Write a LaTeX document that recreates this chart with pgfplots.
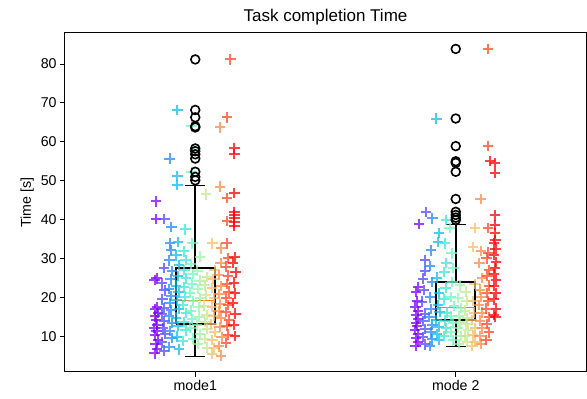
\documentclass[border=0pt]{standalone}
\usepackage{pgfplots}
\pgfplotsset{compat=1.18}
\usepackage{pgfplotstable}
\usepackage{fontspec}
\setmainfont{Liberation Sans}
\definecolor{mplorange}{rgb}{1,0.498,0.055}
\pgfplotsset{colormap={mplrainbow}{rgb=(0.5,0,1) rgb=(0.25,0.383,0.981) rgb=(0,0.707,0.924) rgb=(0.25,0.924,0.831) rgb=(0.5,1,0.707) rgb=(0.75,0.924,0.556) rgb=(1,0.707,0.383) rgb=(1,0.383,0.195) rgb=(1,0,0)}}

\pgfplotstableread[row sep=\\]{
c y j\\
0 5.6 -0.006\\ 0 6.8 0.004\\ 0 7.9 -0.002\\ 0 9.0 0.006\\ 0 10.2 -0.005\\ 0 11.3 0.002\\ 0 12.1 -0.007\\ 0 13.0 0.005\\ 0 14.2 0.000\\ 0 15.1 -0.004\\ 0 16.0 0.007\\ 0 16.9 -0.003\\ 0 17.4 0.003\\ 0 24.4 -0.006\\ 0 24.9 0.002\\ 0 40.1 0.000\\ 0 44.7 0.000\\
1 6.3 0.003\\ 1 8.4 -0.004\\ 1 10.5 0.006\\ 1 12.0 -0.002\\ 1 13.8 0.004\\ 1 15.6 -0.006\\ 1 17.2 0.001\\ 1 19.5 -0.003\\ 1 21.8 0.005\\ 1 23.6 -0.005\\ 1 27.5 0.002\\ 1 40.1 0.004\\
2 7.2 -0.004\\ 2 9.6 0.005\\ 2 11.4 -0.001\\ 2 13.4 0.006\\ 2 15.2 -0.006\\ 2 16.8 0.002\\ 2 18.6 -0.003\\ 2 20.4 0.004\\ 2 22.2 -0.005\\ 2 24.6 0.001\\ 2 26.8 0.006\\ 2 29.5 -0.004\\ 2 32.1 0.003\\ 2 33.9 -0.002\\ 2 38.1 0.004\\ 2 55.7 -0.003\\
3 6.6 0.005\\ 3 9.9 -0.003\\ 3 12.6 0.002\\ 3 14.8 -0.006\\ 3 17.0 0.006\\ 3 19.2 -0.001\\ 3 21.3 0.004\\ 3 23.0 -0.005\\ 3 25.5 0.001\\ 3 28.3 0.006\\ 3 30.8 -0.004\\ 3 34.2 0.003\\ 3 48.9 0.000\\ 3 51.2 0.000\\ 3 68.2 0.000\\
4 8.8 -0.005\\ 4 11.5 0.004\\ 4 13.7 -0.002\\ 4 15.9 0.006\\ 4 18.1 -0.006\\ 4 20.2 0.002\\ 4 22.6 -0.003\\ 4 24.9 0.005\\ 4 27.1 -0.001\\ 4 29.6 0.004\\ 4 31.8 -0.004\\ 4 37.5 0.003\\
5 9.4 0.004\\ 5 12.2 -0.005\\ 5 14.4 0.002\\ 5 16.6 -0.003\\ 5 19.0 0.006\\ 5 21.2 -0.006\\ 5 23.5 0.001\\ 5 26.0 0.005\\ 5 28.6 -0.002\\ 5 33.9 0.003\\ 5 52.3 0.000\\ 5 57.8 0.010\\ 5 64.0 0.000\\
6 8.0 -0.003\\ 6 10.6 0.005\\ 6 12.8 -0.006\\ 6 14.9 0.002\\ 6 17.5 -0.001\\ 6 19.8 0.006\\ 6 22.1 -0.004\\ 6 24.3 0.003\\ 6 26.9 -0.005\\ 6 30.5 0.004\\
7 7.1 0.004\\ 7 9.3 -0.005\\ 7 11.8 0.006\\ 7 13.6 -0.002\\ 7 15.5 0.003\\ 7 17.9 -0.006\\ 7 20.6 0.001\\ 7 23.1 -0.003\\ 7 25.3 0.005\\ 7 46.5 0.000\\
8 5.4 -0.004\\ 8 6.9 0.005\\ 8 9.0 -0.002\\ 8 11.1 0.006\\ 8 13.2 -0.006\\ 8 15.3 0.002\\ 8 17.6 -0.003\\ 8 19.9 0.004\\ 8 22.4 -0.005\\ 8 24.7 0.001\\ 8 27.0 0.006\\ 8 33.9 -0.002\\
9 5.0 0.003\\ 9 7.4 -0.004\\ 9 9.8 0.006\\ 9 12.3 -0.002\\ 9 14.6 0.004\\ 9 16.4 -0.006\\ 9 18.3 0.001\\ 9 20.8 -0.003\\ 9 22.9 0.005\\ 9 25.8 -0.005\\ 9 28.9 0.002\\ 9 32.6 0.004\\ 9 48.5 0.000\\ 9 63.7 0.000\\
10 8.2 -0.005\\ 10 10.4 0.004\\ 10 12.7 -0.002\\ 10 14.3 0.006\\ 10 16.2 -0.006\\ 10 18.0 0.002\\ 10 19.8 -0.003\\ 10 21.5 0.005\\ 10 23.4 -0.001\\ 10 25.6 0.004\\ 10 27.9 -0.004\\ 10 30.2 0.003\\ 10 33.9 -0.002\\ 10 39.6 0.000\\ 10 45.5 0.000\\ 10 66.3 0.000\\ 10 81.2 0.012\\
11 10.0 0.002\\ 11 12.9 -0.003\\ 11 15.8 0.004\\ 11 18.5 -0.005\\ 11 21.0 0.003\\ 11 23.8 -0.002\\ 11 26.4 0.005\\ 11 28.8 -0.004\\ 11 30.4 0.001\\ 11 38.3 0.000\\ 11 39.3 0.000\\ 11 40.4 0.000\\ 11 41.2 0.000\\ 11 41.9 0.000\\ 11 46.8 0.000\\ 11 56.8 0.000\\ 11 58.3 0.000\\
}\modeA

\pgfplotstableread[row sep=\\]{
c y j\\
0 7.6 -0.004\\ 0 8.6 0.004\\ 0 9.6 -0.002\\ 0 10.6 0.006\\ 0 11.6 -0.006\\ 0 12.6 0.002\\ 0 13.5 -0.003\\ 0 14.5 0.005\\ 0 15.5 -0.001\\ 0 16.5 0.004\\ 0 17.6 -0.005\\ 0 19.0 0.003\\ 0 21.4 -0.002\\ 0 22.6 0.005\\ 0 38.8 0.010\\
1 7.9 0.003\\ 1 9.8 -0.004\\ 1 11.8 0.006\\ 1 13.9 -0.002\\ 1 15.8 0.004\\ 1 18.9 -0.006\\ 1 21.9 0.001\\ 1 24.8 -0.003\\ 1 26.8 0.005\\ 1 29.6 0.004\\ 1 42.0 0.008\\
2 7.5 -0.004\\ 2 9.2 0.005\\ 2 11.0 -0.001\\ 2 13.0 0.006\\ 2 15.0 -0.006\\ 2 17.0 0.002\\ 2 20.0 -0.003\\ 2 24.0 0.004\\ 2 28.0 -0.005\\ 2 32.1 0.001\\ 2 40.3 0.006\\
3 9.0 0.005\\ 3 10.6 -0.003\\ 3 12.4 0.002\\ 3 14.2 -0.006\\ 3 16.2 0.006\\ 3 18.1 -0.001\\ 3 21.0 0.004\\ 3 25.1 -0.005\\ 3 34.3 0.001\\ 3 36.5 0.004\\ 3 66.0 -0.006\\
4 10.1 -0.005\\ 4 12.0 0.004\\ 4 14.0 -0.002\\ 4 16.1 0.006\\ 4 19.5 -0.006\\ 4 22.5 0.002\\ 4 26.5 -0.003\\ 4 28.8 0.005\\ 4 33.9 -0.001\\ 4 39.9 0.003\\
5 9.0 0.004\\ 5 11.2 -0.005\\ 5 13.4 0.002\\ 5 15.1 -0.003\\ 5 17.8 0.006\\ 5 20.1 -0.006\\ 5 24.0 0.001\\ 5 27.5 0.005\\ 5 31.3 -0.002\\ 5 37.8 -0.010\\
6 8.0 -0.003\\ 6 10.0 0.005\\ 6 12.1 -0.006\\ 6 13.6 0.002\\ 6 15.2 -0.001\\ 6 17.2 0.006\\ 6 19.9 -0.004\\ 6 23.1 0.003\\
7 8.5 0.004\\ 7 10.1 -0.005\\ 7 11.6 0.006\\ 7 13.1 -0.002\\ 7 14.6 0.003\\ 7 16.6 -0.006\\ 7 19.0 0.001\\ 7 21.5 -0.003\\
8 7.5 -0.004\\ 8 8.6 0.005\\ 8 10.2 -0.002\\ 8 12.0 0.006\\ 8 14.1 -0.006\\ 8 16.0 0.002\\ 8 19.1 -0.003\\ 8 23.5 0.004\\ 8 33.0 -0.002\\ 8 37.8 0.006\\
9 8.1 0.003\\ 9 10.0 -0.004\\ 9 12.0 0.006\\ 9 14.0 -0.002\\ 9 16.1 0.004\\ 9 18.0 -0.006\\ 9 20.1 0.001\\ 9 22.0 -0.003\\ 9 25.0 0.005\\ 9 28.8 -0.005\\ 9 32.0 0.002\\ 9 45.3 0.000\\
10 9.1 -0.005\\ 10 11.0 0.004\\ 10 13.1 -0.002\\ 10 15.0 0.006\\ 10 17.1 -0.006\\ 10 19.0 0.002\\ 10 21.1 -0.003\\ 10 23.0 0.005\\ 10 25.5 -0.001\\ 10 27.1 0.004\\ 10 30.0 -0.004\\ 10 31.5 0.003\\ 10 37.8 0.000\\ 10 58.9 0.000\\ 10 83.9 0.000\\
11 14.9 0.002\\ 11 15.5 -0.004\\ 11 17.1 0.004\\ 11 19.5 -0.005\\ 11 21.0 0.003\\ 11 22.9 -0.002\\ 11 24.5 0.005\\ 11 26.0 -0.004\\ 11 27.5 0.001\\ 11 29.1 0.004\\ 11 31.0 -0.003\\ 11 32.5 0.003\\ 11 33.9 -0.004\\ 11 34.7 0.002\\ 11 36.5 0.000\\ 11 38.6 0.000\\ 11 41.1 0.000\\ 11 52.0 0.000\\ 11 54.5 0.000\\ 11 55.1 -0.018\\
}\modeB

\begin{document}
\begin{tikzpicture}
\begin{axis}[
  scale only axis, width=521pt, height=339pt,
  xmin=0.5, xmax=2.5, ymin=0.8, ymax=88,
  xtick={1,2}, xticklabels={mode1,mode 2},
  ytick={10,20,30,40,50,60,70,80},
  tick pos=left, tick align=outside, major tick length=4.9pt,
  every tick/.style={black, line width=1pt},
  axis line style={line width=1pt},
  tick label style={font=\fontsize{14.2}{16}\selectfont},
  /pgf/number format/assume math mode=true,
  ylabel={Time [s]},
  ylabel style={font=\fontsize{14.2}{16}\selectfont},
  title={Task completion Time},
  title style={font=\fontsize{17}{19}\selectfont, yshift=-1.5pt},
  colormap name=mplrainbow, point meta min=0, point meta max=11,
  clip=true,
]
\addplot[scatter, only marks, mark=+, point meta=explicit,
  scatter/use mapped color={draw=mapped color, fill=mapped color, draw opacity=0.75, line width=2pt},
  mark size=5.2pt]
  table[x expr={0.85+0.02727*\thisrow{c}+\thisrow{j}}, y=y, meta=c] {\modeA};
\addplot[scatter, only marks, mark=+, point meta=explicit,
  scatter/use mapped color={draw=mapped color, fill=mapped color, draw opacity=0.75, line width=2pt},
  mark size=5.2pt]
  table[x expr={1.85+0.02727*\thisrow{c}+\thisrow{j}}, y=y, meta=c] {\modeB};
% mode1 box
\addplot[black, line width=1.9pt, mark=none] coordinates {(0.925,13.17) (1.075,13.17) (1.075,27.58) (0.925,27.58) (0.925,13.17)};
\addplot[black, line width=1.9pt, mark=none] coordinates {(1,13.17) (1,4.78)};
\addplot[black, line width=1.9pt, mark=none] coordinates {(1,27.58) (1,48.78)};
\addplot[black, line width=1.9pt, mark=none] coordinates {(0.9625,4.78) (1.0375,4.78)};
\addplot[black, line width=1.9pt, mark=none] coordinates {(0.9625,48.78) (1.0375,48.78)};
\addplot[mplorange, line width=1.9pt, mark=none] coordinates {(0.925,19.19) (1.075,19.19)};
% mode2 box
\addplot[black, line width=1.9pt, mark=none] coordinates {(1.925,14.12) (2.075,14.12) (2.075,23.98) (1.925,23.98) (1.925,14.12)};
\addplot[black, line width=1.9pt, mark=none] coordinates {(2,14.12) (2,7.35)};
\addplot[black, line width=1.9pt, mark=none] coordinates {(2,23.98) (2,38.74)};
\addplot[black, line width=1.9pt, mark=none] coordinates {(1.9625,7.35) (2.0375,7.35)};
\addplot[black, line width=1.9pt, mark=none] coordinates {(1.9625,38.74) (2.0375,38.74)};
\addplot[mplorange, line width=1.9pt, mark=none] coordinates {(1.925,17.38) (2.075,17.38)};
\addplot[only marks, mark=o, mark size=4.4pt, black, mark options={line width=1.6pt}] coordinates {
  (1,81.2) (1,68.2) (1,66.3) (1,64.0) (1,63.7) (1,58.3) (1,57.6) (1,56.8) (1,55.7) (1,52.3) (1,51.0) (1,50.1)
  (2,83.9) (2,66.0) (2,58.9) (2,55.0) (2,54.6) (2,52.3) (2,45.3) (2,42.0) (2,41.2) (2,40.5) (2,39.9)};
\end{axis}
\pgfresetboundingbox
\path ([shift={(-65pt,-27pt)}]current axis.south west) rectangle ([shift={(1pt,33pt)}]current axis.north east);
\end{tikzpicture}
\end{document}
